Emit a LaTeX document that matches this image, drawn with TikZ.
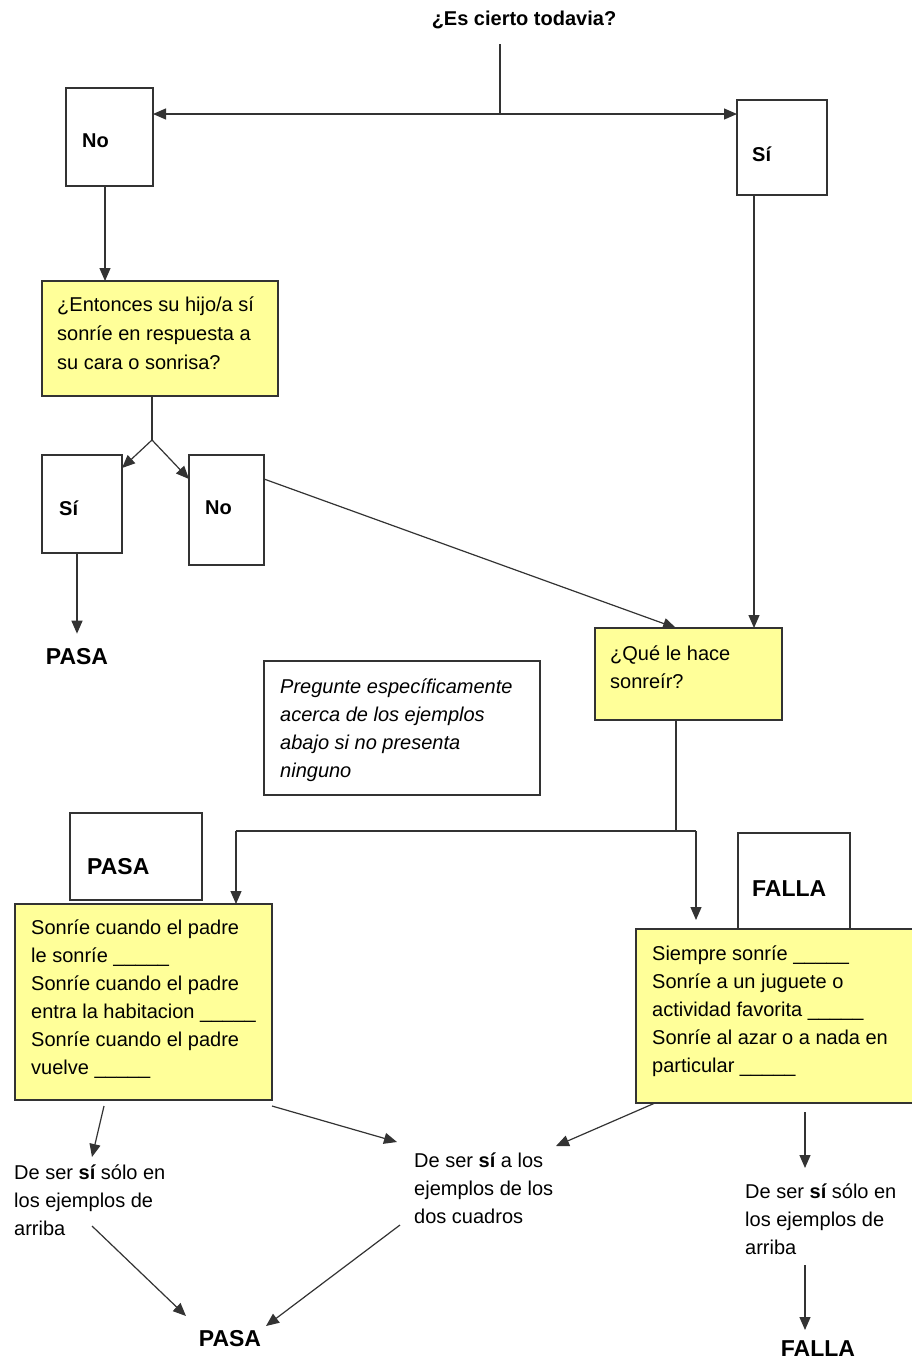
\documentclass[tikz,border=0pt]{standalone}
\usepackage{fontspec}
\setmainfont{Liberation Sans}
\usetikzlibrary{arrows.meta,calc}
\definecolor{ink}{HTML}{333333}
\definecolor{pad}{HTML}{FFFF99}
\tikzset{
  box/.style={draw=ink, line width=1.2pt, inner sep=0pt, outer sep=0pt, rectangle},
  qbox/.style={box, fill=pad},
  lbl/.style={inner sep=0pt, anchor=west, font=\fontsize{20}{24}\selectfont\bfseries},
  txt/.style={inner sep=0pt, anchor=north west, align=left, font=\fontsize{20}{28}\selectfont},
  big/.style={inner sep=0pt, font=\fontsize{23}{28}\selectfont\bfseries},
  link/.style={draw=ink, line width=1.2pt},
  arr/.style={link, -{Triangle[length=13pt,width=11pt]}},
}
\begin{document}
\begin{tikzpicture}[x=1pt,y=-1pt]
\fill[white] (0,0) rectangle (912,1361);
\useasboundingbox (0,0) rectangle (912,1361);

% question at the top
\node[lbl, anchor=center] (title) at (524,20) {¿Es cierto todavia?};
\coordinate (j0) at (500,44);
\coordinate (j1) at (500,114);

% first answers
\node[box, minimum width=87, minimum height=98] (no1) at (109.5,137) {};
\node[lbl] (no1t) at (82,141) {No};
\node[box, minimum width=90, minimum height=95] (si1) at (782,147.5) {};
\node[lbl] (si1t) at (752,154) {Sí};

% follow-up question
\node[qbox, minimum width=236, minimum height=115] (q1) at (160,338.5) {};
\node[txt, font=\fontsize{20}{29}\selectfont] (q1t) at (57,297) {¿Entonces su hijo/a sí\\sonríe en respuesta a\\su cara o sonrisa?};
\coordinate (j2) at (152,440);

\node[box, minimum width=80, minimum height=98] (si2) at (82,504) {};
\node[lbl] (si2t) at (59,508) {Sí};
\node[box, minimum width=75, minimum height=110] (no2) at (226.5,510) {};
\node[lbl] (no2t) at (205,508) {No};
\node[big] (pasa1) at (77,657) {PASA};

% what makes the child smile
\node[qbox, minimum width=187, minimum height=92] (q2) at (688.5,674) {};
\node[txt] (q2t) at (610,646) {¿Qué le hace\\sonreír?};

\node[box, minimum width=276, minimum height=134] (note) at (402,728) {};
\node[txt, font=\fontsize{20}{28}\selectfont\itshape] (notet) at (280,679)
  {Pregunte específicamente\\acerca de los ejemplos\\abajo si no presenta\\ninguno};

\coordinate (jl) at (236,831);
\coordinate (jr) at (696,831);

% example lists
\node[box, minimum width=132, minimum height=87] (pasab) at (136,856.5) {};
\node[big, anchor=west] (pasabt) at (87,867) {PASA};
\node[qbox, minimum width=257, minimum height=196] (ex1) at (143.5,1002) {};
\node[txt] (ex1t) at (31,920) {Sonríe cuando el padre\\le sonríe \_\_\_\_\_\\Sonríe cuando el padre\\entra la habitacion \_\_\_\_\_\\Sonríe cuando el padre\\vuelve \_\_\_\_\_};

\node[box, minimum width=112, minimum height=96] (fallab) at (794,881) {};
\node[big, anchor=west] (fallabt) at (752,889) {FALLA};
\node[qbox, minimum width=279, minimum height=174] (ex2) at (775.5,1016) {};
\node[txt] (ex2t) at (652,946) {Siempre sonríe \_\_\_\_\_\\Sonríe a un juguete o\\actividad favorita \_\_\_\_\_\\Sonríe al azar o a nada en\\particular \_\_\_\_\_};

% outcomes
\node[txt] (t1) at (14,1165) {De ser {\bfseries sí} sólo en\\los ejemplos de\\arriba};
\node[txt] (t2) at (414,1153) {De ser {\bfseries sí} a los\\ejemplos de los\\dos cuadros};
\node[txt] (t3) at (745,1184) {De ser {\bfseries sí} sólo en\\los ejemplos de\\arriba};
\node[big] (pasa2) at (230,1339) {PASA};
\node[big] (falla2) at (818,1349) {FALLA};

% connectors
\draw[link] (j0) -- (j1);
\draw[arr] (j1) -- (j1 -| no1.east);
\draw[arr] (j1) -- (j1 -| si1.west);
\draw[arr] ($(no1.south west)+(39,0)$) -- ($(no1.south west |- q1.north)+(39,0)$);
\draw[link] ($(q1.south west)+(110,0)$) -- (j2);
\draw[arr] (j2) -- ($(si2.north east)+(0,13)$);
\draw[arr] (j2) -- ($(no2.north west)+(0,24)$);
\draw[arr] ($(si2.south west)+(35,0)$) -- ($(pasa1.north)+(0,-15)$);
\draw[arr] ($(no2.north east)+(0,24)$) -- ($(q2.north west)+(81,0)$);
\draw[arr] ($(si1.south west)+(17,0)$) -- ($(si1.south west |- q2.north)+(17,0)$);
\draw[link] ($(q2.south west)+(81,0)$) -- ($(q2.south west |- jl)+(81,0)$);
\draw[link] (jl) -- (jr);
\draw[arr] (jl) -- (jl |- ex1.north);
\draw[arr] (jr) -- ($(jr |- ex2.north)+(0,-9)$);

\draw[arr] ($(ex1.south west)+(89,6)$) -- ($(t1.north west)+(78,-8)$);
\draw[arr] ($(ex1.south east)+(0,6)$) -- ($(t2.north west)+(-17,-11)$);
\draw[arr] ($(ex2.south west)+(19,0)$) -- ($(t2.north west)+(142,-7)$);
\draw[arr] ($(ex2.south west)+(169,9)$) -- ($(t3.north west)+(60,-16)$);
\draw[arr] ($(t1.north west)+(78,61)$) -- ($(pasa2.center)+(-44,-23)$);
\draw[arr] ($(t2.north west)+(-14,72)$) -- ($(pasa2.center)+(36,-13)$);
\draw[arr] ($(t3.north west)+(60,81)$) -- ($(falla2.center)+(-13,-19)$);
\end{tikzpicture}
\end{document}
